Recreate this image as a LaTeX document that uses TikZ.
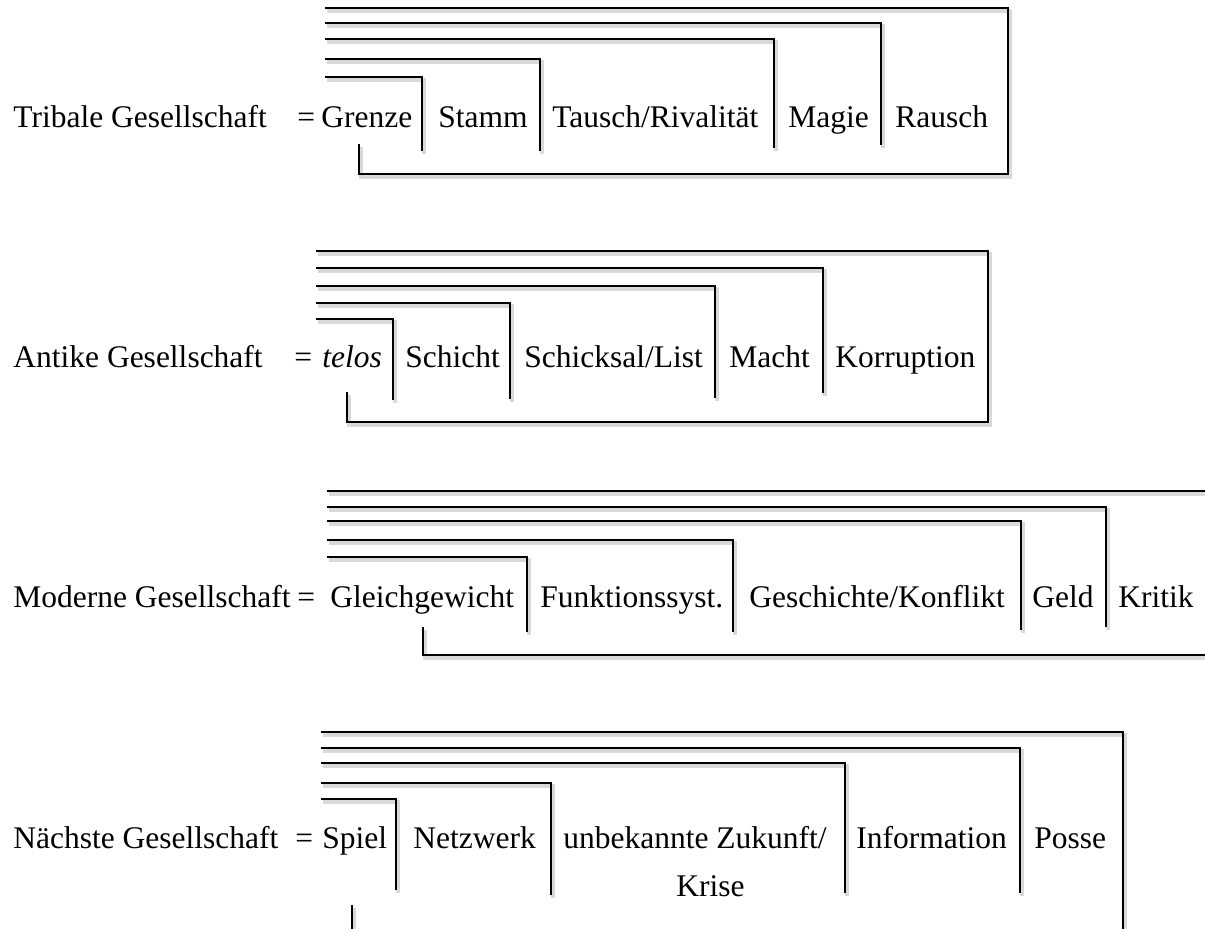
\documentclass[tikz,border=0pt]{standalone}
\usepackage{fontspec}
\setmainfont{Liberation Serif}
\usepackage{tikz}
\newcommand{\termfont}{\fontsize{15.75pt}{19pt}\selectfont}
\tikzset{
  term/.style={anchor=base west, inner sep=0pt, font=\termfont},
  markline/.style={line width=1.35pt, line join=miter,
    preaction={draw=black!15, line width=2pt,
      transform canvas={shift={(0.9pt,-1.4pt)}}}}
}

\begin{document}
\begin{tikzpicture}[x=0.5pt, y=-0.5pt]
  \clip (0,0) rectangle (1205,928);

  % tribale Gesellschaft
  \node[term] (tri) at (13,127) {Tribale Gesellschaft};
  \node[term] (trieq) at (297,127) {=};
  \node[term] (grenze) at (321,127) {Grenze};
  \node[term] (stamm) at (438,127) {Stamm};
  \node[term] (tausch) at (552,127) {Tausch/Rivalität};
  \node[term] (magie) at (788,127) {Magie};
  \node[term] (rausch) at (895,127) {Rausch};
  \foreach \y/\x/\b in {77/422/151, 59/540/151, 39/774/148, 23/881/145}
    \draw[markline] (325,\y) -| (\x,\b);
  \draw[markline] (325,8) -| (1008,174) -| (359,144);

  % antike Gesellschaft
  \node[term] (ant) at (13,367) {Antike Gesellschaft};
  \node[term] (anteq) at (294,367) {=};
  \node[term] (telos) at (322,367) {\itshape telos};
  \node[term] (schicht) at (405,367) {Schicht};
  \node[term] (schicksal) at (524,367) {Schicksal/List};
  \node[term] (macht) at (729,367) {Macht};
  \node[term] (korrupt) at (835,367) {Korruption};
  \foreach \y/\x/\b in {319/393/400, 303/510/399, 286/715/398, 268/823/393}
    \draw[markline] (316,\y) -| (\x,\b);
  \draw[markline] (316,251) -| (988,422) -| (347,392);

  % moderne Gesellschaft
  \node[term] (mod) at (13,607) {Moderne Gesellschaft};
  \node[term] (modeq) at (297,607) {=};
  \node[term] (gleich) at (330,607) {Gleichgewicht};
  \node[term] (funkt) at (540,607) {Funktionssyst.};
  \node[term] (gesch) at (749,607) {Geschichte/Konflikt};
  \node[term] (geld) at (1032,607) {Geld};
  \node[term] (kritik) at (1118,607) {Kritik};
  \foreach \y/\x/\b in {557/527/632, 540/733/632, 521/1021/630, 507/1106/627}
    \draw[markline] (327,\y) -| (\x,\b);
  \draw[markline] (327,491) -| (1225,655) -| (423,627);

  % naechste Gesellschaft
  \node[term] (next) at (13,848) {Nächste Gesellschaft};
  \node[term] (nexteq) at (295,848) {=};
  \node[term] (spiel) at (322,848) {Spiel};
  \node[term] (netz) at (413,848) {Netzwerk};
  \node[term] (zukunft) at (563,848) {unbekannte Zukunft/};
  \node[term] (krise) at (676,896) {Krise};
  \node[term] (info) at (856,848) {Information};
  \node[term] (posse) at (1034,848) {Posse};
  \foreach \y/\x/\b in {799/396/890, 783/551/895, 763/845/893, 748/1020/893}
    \draw[markline] (321,\y) -| (\x,\b);
  \draw[markline] (321,732) -| (1123,945) -| (352,905);
\end{tikzpicture}
\end{document}
